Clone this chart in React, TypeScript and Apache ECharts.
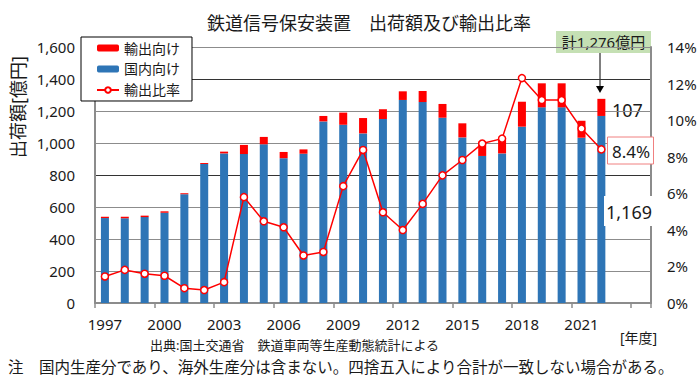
import React, { useEffect, useRef } from "react";
import * as echarts from "echarts";

const categories = [
  "1997", "1998", "1999", "2000", "2001", "2002", "2003", "2004", "2005", "2006",
  "2007", "2008", "2009", "2010", "2011", "2012", "2013", "2014", "2015", "2016",
  "2017", "2018", "2019", "2020", "2021", "2022", "2023", "2024",
];
const xTickLabels = ["1997", "2000", "2003", "2006", "2009", "2012", "2015", "2018", "2021"];
const domestic = [
  531, 529, 537, 564, 680, 869, 935, 931, 992, 905,
  933, 1135, 1114, 1060, 1150, 1269, 1256, 1158, 1035, 919,
  935, 1102, 1223, 1223, 1033, 1169,
];
const exportAmt = [
  8, 10, 9, 9, 6, 6, 11, 57, 46, 39,
  27, 34, 76, 96, 61, 54, 69, 86, 88, 89,
  92, 156, 150, 150, 106, 107,
];
const ratio = [
  1.45, 1.81, 1.6, 1.49, 0.81, 0.71, 1.14, 5.79, 4.47, 4.14,
  2.6, 2.79, 6.39, 8.37, 4.96, 3.99, 5.42, 6.98, 7.82, 8.72,
  8.99, 12.3, 11.1, 11.1, 9.54, 8.4,
];
const leftTicks = { min: 0, max: 1600, interval: 200 };
const rightTicks = { min: 0, max: 14, interval: 2 };

const FONT = "'Noto Sans', 'Noto Sans CJK JP', sans-serif";
const TXT = "#1a1a1a";

export default function App() {
  const ref = useRef<HTMLDivElement>(null);
  useEffect(() => {
    if (!ref.current) return;
    const chart = echarts.init(ref.current, undefined, { renderer: "svg" });
    const G = "#8c8c8c";
    chart.setOption({
      animation: false,
      textStyle: { fontFamily: FONT },
      grid: { left: 95, right: 49, top: 47, bottom: 79 },
      legend: {
        orient: "vertical",
        left: 81,
        top: 37,
        data: ["輸出向け", "国内向け", "輸出比率"],
        itemWidth: 22,
        itemHeight: 7,
        itemGap: 7,
        padding: [4, 12, 4, 15],
        backgroundColor: "#fff",
        borderColor: "#000",
        borderWidth: 1,
        textStyle: { fontSize: 14, fontFamily: FONT, color: TXT },
      },
      xAxis: {
        type: "category",
        data: categories,
        boundaryGap: true,
        axisLine: { lineStyle: { color: G, width: 2 } },
        axisTick: { show: true, interval: 2, length: 5, lineStyle: { color: G, width: 1.5 } },
        axisLabel: {
          interval: 0,
          margin: 13,
          fontSize: 15,
          color: TXT,
          fontFamily: FONT,
          formatter: (v: string) => (xTickLabels.includes(v) ? v : ""),
        },
        splitLine: { show: false },
      },
      yAxis: [
        {
          type: "value",
          ...leftTicks,
          axisLine: { show: true, lineStyle: { color: G, width: 2 } },
          axisTick: { show: false },
          axisLabel: {
            margin: 20,
            fontSize: 15,
            color: TXT,
            fontFamily: FONT,
            formatter: (v: number) => v.toLocaleString("en-US"),
          },
          splitLine: {
            show: true,
            lineStyle: {
              width: 1.2,
              color: [G, G, G, G, "#333", G, G, "#333", G],
            },
          },
        },
        {
          type: "value",
          ...rightTicks,
          position: "right",
          axisLine: { show: true, lineStyle: { color: G, width: 2 } },
          axisTick: { show: false },
          axisLabel: {
            margin: 16,
            fontSize: 15,
            color: TXT,
            fontFamily: FONT,
            formatter: "{value}%",
          },
          splitLine: { show: false },
        },
      ],
      series: [
        {
          name: "国内向け",
          type: "bar",
          stack: "total",
          barWidth: 8,
          data: domestic,
          itemStyle: { color: "#2E75B6" },
        },
        {
          name: "輸出向け",
          type: "bar",
          stack: "total",
          barWidth: 8,
          data: exportAmt,
          itemStyle: { color: "#FF0000" },
        },
        {
          name: "輸出比率",
          type: "line",
          yAxisIndex: 1,
          data: ratio,
          symbol: "circle",
          symbolSize: 7,
          lineStyle: { color: "#FF0000", width: 1.5 },
          itemStyle: { color: "#fff", borderColor: "#FF0000", borderWidth: 1.5 },
          z: 5,
        },
      ],
      graphic: [
        {
          type: "text",
          x: 369,
          y: 23,
          style: {
            text: "鉄道信号保安装置　出荷額及び輸出比率",
            font: `18px ${FONT}`,
            fill: TXT,
            align: "center",
            verticalAlign: "middle",
          },
        },
        {
          type: "text",
          x: 18,
          y: 107,
          rotation: Math.PI / 2,
          style: {
            text: "出荷額[億円]",
            font: `18px ${FONT}`,
            fill: TXT,
            align: "center",
            verticalAlign: "middle",
          },
        },
        {
          type: "rect",
          shape: { x: 556, y: 31, width: 95, height: 22 },
          style: { fill: "#C5E0B4" },
        },
        {
          type: "text",
          x: 603.5,
          y: 42,
          style: {
            text: "計1,276億円",
            font: `15px ${FONT}`,
            fill: TXT,
            align: "center",
            verticalAlign: "middle",
          },
        },
        {
          type: "line",
          shape: { x1: 600, y1: 53, x2: 600, y2: 87 },
          style: { stroke: "#000", lineWidth: 1 },
        },
        {
          type: "polygon",
          shape: { points: [[596, 86], [604, 86], [600, 93]] },
          style: { fill: "#000" },
        },
        {
          type: "text",
          x: 612,
          y: 110,
          style: { text: "107", font: `18px ${FONT}`, fill: TXT, verticalAlign: "middle" },
        },
        {
          type: "rect",
          shape: { x: 607.5, y: 137, width: 46, height: 27 },
          style: { fill: "#fff", stroke: "#F08080", lineWidth: 1 },
          z: 10,
        },
        {
          type: "text",
          x: 612,
          y: 151,
          z: 11,
          style: { text: "8.4%", font: `17px ${FONT}`, fill: TXT, verticalAlign: "middle" },
        },
        {
          type: "rect",
          shape: { x: 604, y: 196, width: 49, height: 30 },
          style: { fill: "#fff" },
          z: 10,
        },
        {
          type: "text",
          x: 606,
          y: 212,
          z: 11,
          style: { text: "1,169", font: `18px ${FONT}`, fill: TXT, verticalAlign: "middle" },
        },
        {
          type: "text",
          x: 620,
          y: 337,
          style: { text: "[年度]", font: `14px ${FONT}`, fill: TXT, verticalAlign: "middle" },
        },
        {
          type: "text",
          x: 150,
          y: 345,
          style: {
            text: "出典:国土交通省　鉄道車両等生産動態統計による",
            font: `13px ${FONT}`,
            fill: TXT,
            verticalAlign: "middle",
          },
        },
        {
          type: "text",
          x: 8,
          y: 367,
          style: {
            text: "注　国内生産分であり、海外生産分は含まない。四捨五入により合計が一致しない場合がある。",
            font: `15.5px ${FONT}`,
            fill: TXT,
            verticalAlign: "middle",
          },
        },
      ],
    });
    return () => chart.dispose();
  }, []);
  return (
    <div
      ref={ref}
      style={{ position: "absolute", left: 0, top: 0, width: 700, height: 382, background: "#fff" }}
    />
  );
}
